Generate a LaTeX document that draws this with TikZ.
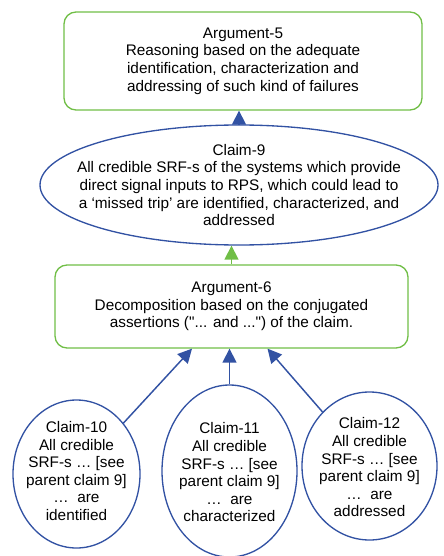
\documentclass[tikz,border=0pt]{standalone}
\usepackage{fontspec}
\setmainfont{Liberation Sans}[Ligatures=TeXOff]
\usetikzlibrary{shapes.geometric,arrows.meta,calc}
\definecolor{claimblue}{RGB}{50,82,163}
\definecolor{arggreen}{RGB}{112,190,70}
\begin{document}
\begin{tikzpicture}[
  x=0.75pt,y=-0.75pt,
  txt/.style={font=\fontsize{11.5pt}{13.2pt}\selectfont,align=center,inner sep=0pt},
  argbox/.style={txt,draw=arggreen,line width=1pt,rounded corners=9pt},
  claim/.style={ellipse,draw=claimblue,line width=1pt,inner sep=0pt},
  bluearrow/.style={-{Triangle[width=10.5pt,length=10.5pt]},claimblue,line width=1.1pt},
  greenarrow/.style={-{Triangle[width=10.5pt,length=10.5pt]},arggreen,line width=1.1pt}
]
  \useasboundingbox (0,0) rectangle (443,556);

  % arguments
  \node[argbox,minimum width=268.5pt,minimum height=73.5pt] (arg5) at (243,61)
    {Argument-5\\Reasoning based on the adequate\\identification, characterization and\\addressing of such kind of failures};
  \node[argbox,minimum width=264.75pt,minimum height=62.25pt] (arg6) at (231.5,306.5)
    {Argument-6\\Decomposition based on the conjugated\\assertions ("... and ...") of the claim.};

  % claims
  \node[claim,minimum width=298.5pt,minimum height=90pt] (c9) at (239,185) {};
  \node[txt] (c9t) at (c9) {Claim-9\\All credible SRF-s of the systems which provide\\direct signal inputs to RPS, which could lead to\\a ‘missed trip’ are identified, characterized, and\\addressed};

  \node[claim,minimum width=95.25pt,minimum height=111pt] (c10) at (76.5,474) {};
  \node[txt] (c10t) at (76.5,471) {Claim-10\\All credible\\SRF-s … [see\\parent claim 9]\\…\ \ are\\identified};

  \node[claim,minimum width=101.25pt,minimum height=129pt] (c11) at (229.5,471) {};
  \node[txt] (c11t) at (229.5,472.5) {Claim-11\\All credible\\SRF-s … [see\\parent claim 9]\\…\ \ are\\characterized};

  \node[claim,minimum width=101.25pt,minimum height=111pt] (c12) at (369.5,466) {};
  \node[txt] (c12t) at (369.5,467.5) {Claim-12\\All credible\\SRF-s … [see\\parent claim 9]\\…\ \ are\\addressed};

  % connectors
  \draw[bluearrow] (c9.north) -- (c9.north |- arg5.south);
  \draw[greenarrow] (arg6.north) -- (arg6.north |- c9.south);
  \draw[bluearrow] (c10) -- ($(arg6.south)+(-39.5,0)$);
  \draw[bluearrow] (c11.north) -- (c11.north |- arg6.south);
  \draw[bluearrow] (c12) -- ($(arg6.south)+(36,0)$);
\end{tikzpicture}
\end{document}
